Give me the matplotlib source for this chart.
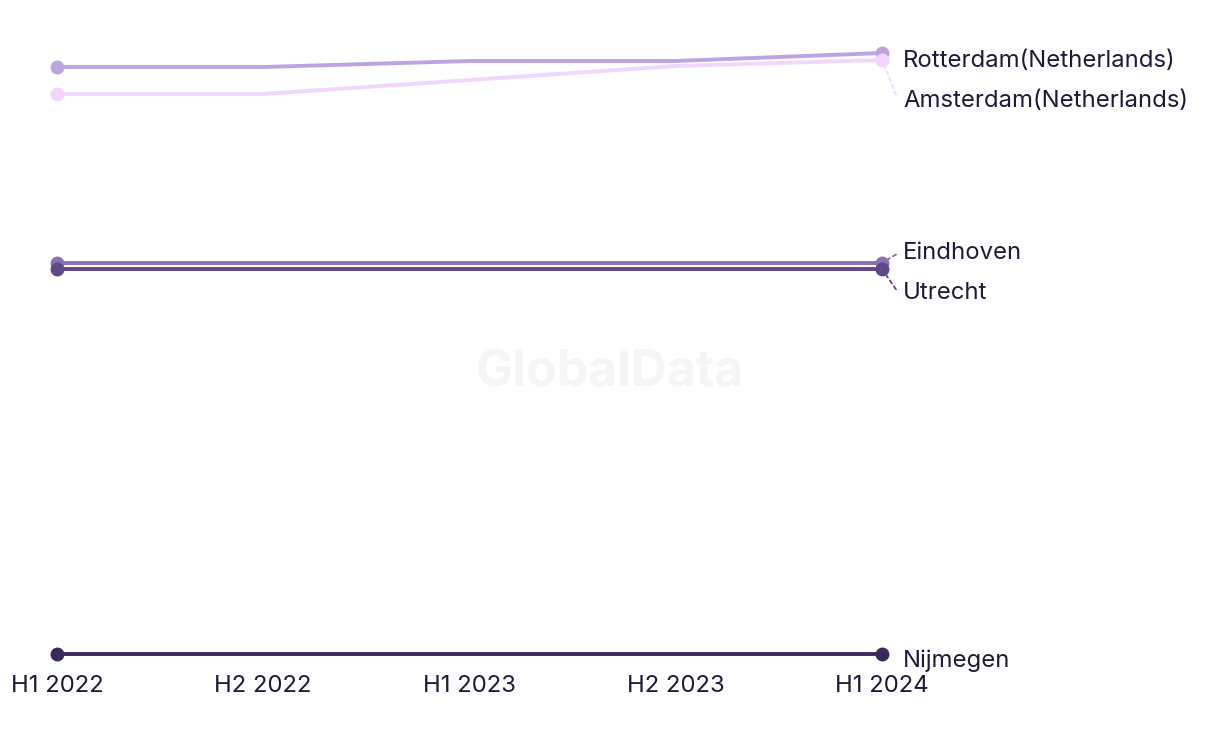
import matplotlib
matplotlib.use("Agg")
import matplotlib.pyplot as plt

periods = ["H1 2022", "H2 2022", "H1 2023", "H2 2023", "H1 2024"]
cities = ["Rotterdam(Netherlands)", "Amsterdam(Netherlands)", "Eindhoven", "Utrecht", "Nijmegen"]
rotterdam = [633, 633, 639, 639, 647]
amsterdam = [606, 606, 620, 634, 640]
eindhoven = [437, 437, 437, 437, 437]
utrecht = [431, 431, 431, 431, 431]
nijmegen = [46, 46, 46, 46, 46]
series = [rotterdam, amsterdam, eindhoven, utrecht, nijmegen]
colors = ["#bca4e1", "#f1d8fb", "#8b70b1", "#5e4886", "#3a2a5a"]
label_y = [639, 599, 447, 407, 39]
leader = [False, True, True, True, False]

plt.rcParams['font.family'] = ['Inter', 'DejaVu Sans']
fig = plt.figure(figsize=(12.2, 7.44), dpi=100)
W, H = 1220, 744
ax = fig.add_axes([57 / W, 1 - 654 / H, (882 - 57) / W, (654 - 53) / H])
x = list(range(len(periods)))
for vals, c in zip(series, colors):
    ax.plot(x, vals, color=c, lw=2.8, solid_capstyle='round', clip_on=False, zorder=3)
    ax.plot([x[0], x[-1]], [vals[0], vals[-1]], 'o', color=c, ms=9, clip_on=False, zorder=4)

for name, vals, c, ly, ld in zip(cities, series, colors, label_y, leader):
    dy = ly - vals[-1]
    ax.annotate(name, xy=(x[-1], vals[-1]), xytext=(21, dy),
                textcoords='offset pixels', fontsize=17.2, color='#1d1b36',
                va='center', ha='left', annotation_clip=False)
    if ld:
        ax.annotate('', xy=(x[-1], vals[-1]), xytext=(14, dy * 0.85),
                    textcoords='offset pixels', annotation_clip=False,
                    arrowprops=dict(arrowstyle='-', color=c, lw=1.3, ls=(0, (2, 2)),
                                    shrinkA=0, shrinkB=5), zorder=2)

ax.set_xlim(0, 4)
ax.set_ylim(46, 647)
ax.set_xticks(x)
ax.set_xticklabels(periods, fontsize=17.2, color='#1d1b36')
ax.tick_params(axis='x', length=0, pad=15)
ax.set_yticks([])
for s in ax.spines.values():
    s.set_visible(False)

fig.text(610 / W, 1 - 373 / H, "GlobalData", fontsize=36, fontweight='bold',
         color='#f5f5f5', ha='center', va='center', zorder=0)

fig.savefig("out.png", dpi=100)
